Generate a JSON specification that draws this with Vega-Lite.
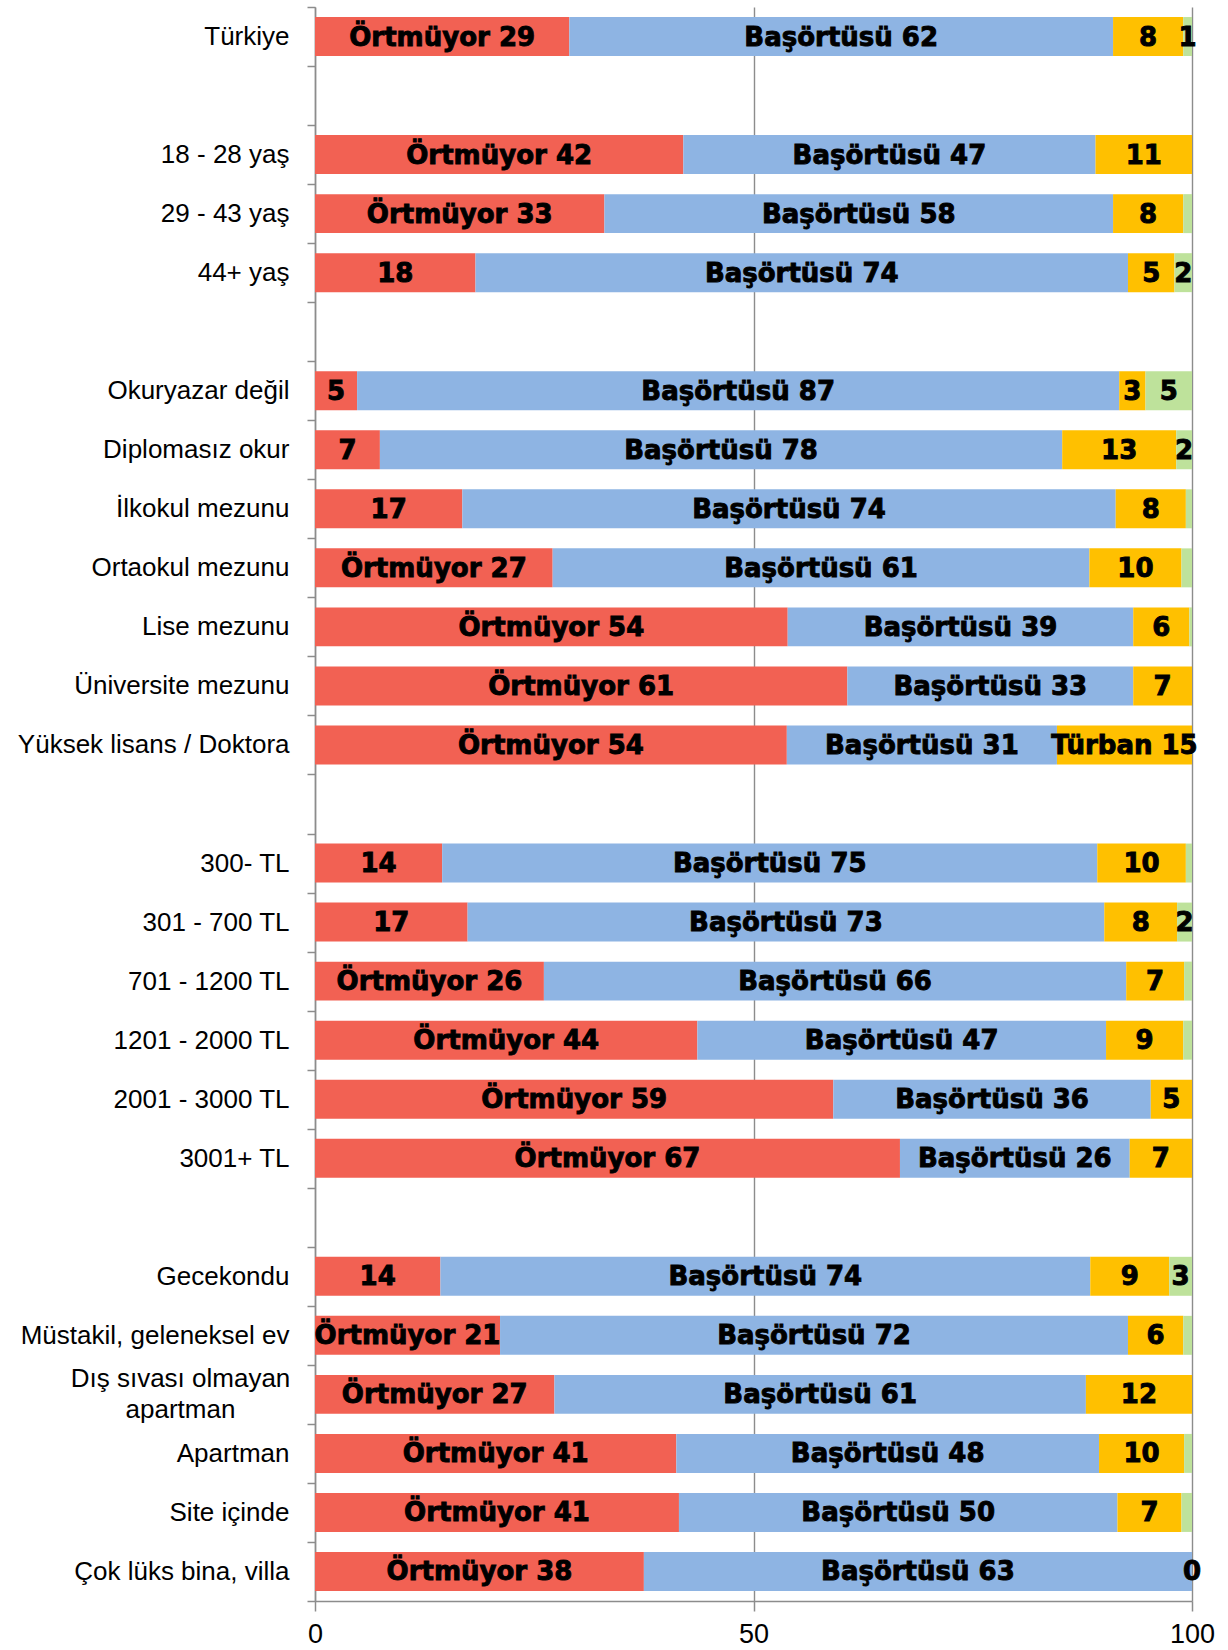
{
  "$schema": "https://vega.github.io/schema/vega-lite/v6.json",
  "width": 877,
  "height": 1594,
  "autosize": {"type": "none"},
  "padding": {"left": 315, "top": 7, "right": 36, "bottom": 49},
  "background": "white",
  "config": {"view": {"stroke": null}},
  "data": {
    "values": [
      {"cat": "Türkiye", "s": "Örtmüyor", "ord": 1, "v": 29, "lab": "Örtmüyor 29"},
      {"cat": "Türkiye", "s": "Başörtüsü", "ord": 2, "v": 62, "lab": "Başörtüsü 62"},
      {"cat": "Türkiye", "s": "Türban", "ord": 3, "v": 8, "lab": "8"},
      {"cat": "Türkiye", "s": "Çarşaf", "ord": 4, "v": 1, "lab": "1"},
      {"cat": "18 - 28 yaş", "s": "Örtmüyor", "ord": 1, "v": 42, "lab": "Örtmüyor 42"},
      {"cat": "18 - 28 yaş", "s": "Başörtüsü", "ord": 2, "v": 47, "lab": "Başörtüsü 47"},
      {"cat": "18 - 28 yaş", "s": "Türban", "ord": 3, "v": 11, "lab": "11"},
      {"cat": "29 - 43 yaş", "s": "Örtmüyor", "ord": 1, "v": 33, "lab": "Örtmüyor 33"},
      {"cat": "29 - 43 yaş", "s": "Başörtüsü", "ord": 2, "v": 58, "lab": "Başörtüsü 58"},
      {"cat": "29 - 43 yaş", "s": "Türban", "ord": 3, "v": 8, "lab": "8"},
      {"cat": "29 - 43 yaş", "s": "Çarşaf", "ord": 4, "v": 1, "lab": ""},
      {"cat": "44+ yaş", "s": "Örtmüyor", "ord": 1, "v": 18.3, "lab": "18"},
      {"cat": "44+ yaş", "s": "Başörtüsü", "ord": 2, "v": 74.4, "lab": "Başörtüsü 74"},
      {"cat": "44+ yaş", "s": "Türban", "ord": 3, "v": 5.3, "lab": "5"},
      {"cat": "44+ yaş", "s": "Çarşaf", "ord": 4, "v": 2, "lab": "2"},
      {"cat": "Okuryazar değil", "s": "Örtmüyor", "ord": 1, "v": 4.8, "lab": "5"},
      {"cat": "Okuryazar değil", "s": "Başörtüsü", "ord": 2, "v": 86.9, "lab": "Başörtüsü 87"},
      {"cat": "Okuryazar değil", "s": "Türban", "ord": 3, "v": 3, "lab": "3"},
      {"cat": "Okuryazar değil", "s": "Çarşaf", "ord": 4, "v": 5.3, "lab": "5"},
      {"cat": "Diplomasız okur", "s": "Örtmüyor", "ord": 1, "v": 7.4, "lab": "7"},
      {"cat": "Diplomasız okur", "s": "Başörtüsü", "ord": 2, "v": 77.8, "lab": "Başörtüsü 78"},
      {"cat": "Diplomasız okur", "s": "Türban", "ord": 3, "v": 13, "lab": "13"},
      {"cat": "Diplomasız okur", "s": "Çarşaf", "ord": 4, "v": 1.8, "lab": "2"},
      {"cat": "İlkokul mezunu", "s": "Örtmüyor", "ord": 1, "v": 16.8, "lab": "17"},
      {"cat": "İlkokul mezunu", "s": "Başörtüsü", "ord": 2, "v": 74.5, "lab": "Başörtüsü 74"},
      {"cat": "İlkokul mezunu", "s": "Türban", "ord": 3, "v": 8, "lab": "8"},
      {"cat": "İlkokul mezunu", "s": "Çarşaf", "ord": 4, "v": 0.7, "lab": ""},
      {"cat": "Ortaokul mezunu", "s": "Örtmüyor", "ord": 1, "v": 27.1, "lab": "Örtmüyor 27"},
      {"cat": "Ortaokul mezunu", "s": "Başörtüsü", "ord": 2, "v": 61.2, "lab": "Başörtüsü 61"},
      {"cat": "Ortaokul mezunu", "s": "Türban", "ord": 3, "v": 10.5, "lab": "10"},
      {"cat": "Ortaokul mezunu", "s": "Çarşaf", "ord": 4, "v": 1.2, "lab": ""},
      {"cat": "Lise mezunu", "s": "Örtmüyor", "ord": 1, "v": 53.9, "lab": "Örtmüyor 54"},
      {"cat": "Lise mezunu", "s": "Başörtüsü", "ord": 2, "v": 39.4, "lab": "Başörtüsü 39"},
      {"cat": "Lise mezunu", "s": "Türban", "ord": 3, "v": 6.4, "lab": "6"},
      {"cat": "Lise mezunu", "s": "Çarşaf", "ord": 4, "v": 0.3, "lab": ""},
      {"cat": "Üniversite mezunu", "s": "Örtmüyor", "ord": 1, "v": 60.7, "lab": "Örtmüyor 61"},
      {"cat": "Üniversite mezunu", "s": "Başörtüsü", "ord": 2, "v": 32.6, "lab": "Başörtüsü 33"},
      {"cat": "Üniversite mezunu", "s": "Türban", "ord": 3, "v": 6.7, "lab": "7"},
      {"cat": "Yüksek lisans / Doktora", "s": "Örtmüyor", "ord": 1, "v": 53.8, "lab": "Örtmüyor 54"},
      {"cat": "Yüksek lisans / Doktora", "s": "Başörtüsü", "ord": 2, "v": 30.8, "lab": "Başörtüsü 31"},
      {"cat": "Yüksek lisans / Doktora", "s": "Türban", "ord": 3, "v": 15.4, "lab": "Türban 15"},
      {"cat": "300- TL", "s": "Örtmüyor", "ord": 1, "v": 14.5, "lab": "14"},
      {"cat": "300- TL", "s": "Başörtüsü", "ord": 2, "v": 74.7, "lab": "Başörtüsü 75"},
      {"cat": "300- TL", "s": "Türban", "ord": 3, "v": 10.1, "lab": "10"},
      {"cat": "300- TL", "s": "Çarşaf", "ord": 4, "v": 0.7, "lab": ""},
      {"cat": "301 - 700 TL", "s": "Örtmüyor", "ord": 1, "v": 17.4, "lab": "17"},
      {"cat": "301 - 700 TL", "s": "Başörtüsü", "ord": 2, "v": 72.6, "lab": "Başörtüsü 73"},
      {"cat": "301 - 700 TL", "s": "Türban", "ord": 3, "v": 8.3, "lab": "8"},
      {"cat": "301 - 700 TL", "s": "Çarşaf", "ord": 4, "v": 1.7, "lab": "2"},
      {"cat": "701 - 1200 TL", "s": "Örtmüyor", "ord": 1, "v": 26.1, "lab": "Örtmüyor 26"},
      {"cat": "701 - 1200 TL", "s": "Başörtüsü", "ord": 2, "v": 66.4, "lab": "Başörtüsü 66"},
      {"cat": "701 - 1200 TL", "s": "Türban", "ord": 3, "v": 6.6, "lab": "7"},
      {"cat": "701 - 1200 TL", "s": "Çarşaf", "ord": 4, "v": 0.9, "lab": ""},
      {"cat": "1201 - 2000 TL", "s": "Örtmüyor", "ord": 1, "v": 43.6, "lab": "Örtmüyor 44"},
      {"cat": "1201 - 2000 TL", "s": "Başörtüsü", "ord": 2, "v": 46.6, "lab": "Başörtüsü 47"},
      {"cat": "1201 - 2000 TL", "s": "Türban", "ord": 3, "v": 8.8, "lab": "9"},
      {"cat": "1201 - 2000 TL", "s": "Çarşaf", "ord": 4, "v": 1, "lab": ""},
      {"cat": "2001 - 3000 TL", "s": "Örtmüyor", "ord": 1, "v": 59.1, "lab": "Örtmüyor 59"},
      {"cat": "2001 - 3000 TL", "s": "Başörtüsü", "ord": 2, "v": 36.2, "lab": "Başörtüsü 36"},
      {"cat": "2001 - 3000 TL", "s": "Türban", "ord": 3, "v": 4.7, "lab": "5"},
      {"cat": "3001+ TL", "s": "Örtmüyor", "ord": 1, "v": 66.7, "lab": "Örtmüyor 67"},
      {"cat": "3001+ TL", "s": "Başörtüsü", "ord": 2, "v": 26.2, "lab": "Başörtüsü 26"},
      {"cat": "3001+ TL", "s": "Türban", "ord": 3, "v": 7.1, "lab": "7"},
      {"cat": "Gecekondu", "s": "Örtmüyor", "ord": 1, "v": 14.3, "lab": "14"},
      {"cat": "Gecekondu", "s": "Başörtüsü", "ord": 2, "v": 74.1, "lab": "Başörtüsü 74"},
      {"cat": "Gecekondu", "s": "Türban", "ord": 3, "v": 9, "lab": "9"},
      {"cat": "Gecekondu", "s": "Çarşaf", "ord": 4, "v": 2.6, "lab": "3"},
      {"cat": "Müstakil, geleneksel ev", "s": "Örtmüyor", "ord": 1, "v": 21.1, "lab": "Örtmüyor 21"},
      {"cat": "Müstakil, geleneksel ev", "s": "Başörtüsü", "ord": 2, "v": 71.6, "lab": "Başörtüsü 72"},
      {"cat": "Müstakil, geleneksel ev", "s": "Türban", "ord": 3, "v": 6.3, "lab": "6"},
      {"cat": "Müstakil, geleneksel ev", "s": "Çarşaf", "ord": 4, "v": 1, "lab": ""},
      {"cat": "Dış sıvası olmayan apartman", "s": "Örtmüyor", "ord": 1, "v": 27.3, "lab": "Örtmüyor 27"},
      {"cat": "Dış sıvası olmayan apartman", "s": "Başörtüsü", "ord": 2, "v": 60.6, "lab": "Başörtüsü 61"},
      {"cat": "Dış sıvası olmayan apartman", "s": "Türban", "ord": 3, "v": 12.1, "lab": "12"},
      {"cat": "Apartman", "s": "Örtmüyor", "ord": 1, "v": 41.2, "lab": "Örtmüyor 41"},
      {"cat": "Apartman", "s": "Başörtüsü", "ord": 2, "v": 48.2, "lab": "Başörtüsü 48"},
      {"cat": "Apartman", "s": "Türban", "ord": 3, "v": 9.7, "lab": "10"},
      {"cat": "Apartman", "s": "Çarşaf", "ord": 4, "v": 0.9, "lab": ""},
      {"cat": "Site içinde", "s": "Örtmüyor", "ord": 1, "v": 41.5, "lab": "Örtmüyor 41"},
      {"cat": "Site içinde", "s": "Başörtüsü", "ord": 2, "v": 50, "lab": "Başörtüsü 50"},
      {"cat": "Site içinde", "s": "Türban", "ord": 3, "v": 7.3, "lab": "7"},
      {"cat": "Site içinde", "s": "Çarşaf", "ord": 4, "v": 1.2, "lab": ""},
      {"cat": "Çok lüks bina, villa", "s": "Örtmüyor", "ord": 1, "v": 37.5, "lab": "Örtmüyor 38"},
      {"cat": "Çok lüks bina, villa", "s": "Başörtüsü", "ord": 2, "v": 62.5, "lab": "Başörtüsü 63"},
      {"cat": "Çok lüks bina, villa", "s": "Çarşaf", "ord": 4, "v": 0, "lab": "0"}
    ]
  },
  "transform": [
    {"stack": "v", "groupby": ["cat"], "sort": [{"field": "ord", "order": "ascending"}], "as": ["v0", "v1"]},
    {"calculate": "(datum.v0 + datum.v1) / 2", "as": "mid"}
  ],
  "encoding": {
    "y": {
      "field": "cat",
      "type": "nominal",
      "title": null,
      "scale": {
        "domain": ["Türkiye", " ", "18 - 28 yaş", "29 - 43 yaş", "44+ yaş", "  ", "Okuryazar değil", "Diplomasız okur", "İlkokul mezunu", "Ortaokul mezunu", "Lise mezunu", "Üniversite mezunu", "Yüksek lisans / Doktora", "   ", "300- TL", "301 - 700 TL", "701 - 1200 TL", "1201 - 2000 TL", "2001 - 3000 TL", "3001+ TL", "    ", "Gecekondu", "Müstakil, geleneksel ev", "Dış sıvası olmayan apartman", "Apartman", "Site içinde", "Çok lüks bina, villa"],
        "paddingInner": 0,
        "paddingOuter": 0
      },
      "axis": {
        "domainColor": "#8c8c8c",
        "domainWidth": 1.5,
        "tickColor": "#8c8c8c",
        "tickWidth": 1.5,
        "tickSize": 8,
        "tickBand": "extent",
        "labelFont": "Liberation Sans",
        "labelFontSize": 26,
        "labelColor": "#000000",
        "labelLimit": 400,
        "labelLineHeight": 31,
        "labelExpr": "datum.value == 'Dış sıvası olmayan apartman' ? ['Dış sıvası olmayan', 'apartman'] : datum.label",
        "labelAlign": {"condition": {"test": "datum.value == 'Dış sıvası olmayan apartman'", "value": "center"}, "value": "right"},
        "labelPadding": {"condition": {"test": "datum.value == 'Dış sıvası olmayan apartman'", "value": 127}, "value": 18},
        "labelOffset": {"condition": {"test": "datum.value == 'Dış sıvası olmayan apartman'", "value": -15.5}, "value": 0}
      }
    }
  },
  "layer": [
    {
      "mark": {"type": "bar", "height": {"band": 0.66}},
      "encoding": {
        "x": {
          "field": "v0",
          "type": "quantitative",
          "title": null,
          "scale": {"domain": [0, 100], "nice": false},
          "axis": {
            "values": [0, 50, 100],
            "grid": true,
            "gridColor": "#8c8c8c",
            "gridWidth": 1.4,
            "domainColor": "#8c8c8c",
            "domainWidth": 1.5,
            "tickColor": "#8c8c8c",
            "tickWidth": 1.5,
            "tickSize": 10,
            "labelFont": "Liberation Sans",
            "labelFontSize": 27,
            "labelColor": "#000000",
            "labelPadding": 10,
            "labelFlush": false
          }
        },
        "x2": {"field": "v1"},
        "color": {
          "field": "s",
          "type": "nominal",
          "legend": null,
          "scale": {"domain": ["Örtmüyor", "Başörtüsü", "Türban", "Çarşaf"], "range": ["#F26153", "#8EB4E3", "#FFC000", "#BEE29B"]}
        }
      }
    },
    {
      "mark": {"type": "text", "font": "DejaVu Sans", "fontWeight": "bold", "fontSize": 26, "color": "#000000", "stroke": "#000000", "strokeWidth": 0.9, "baseline": "middle", "align": "center", "dy": 1},
      "encoding": {
        "x": {"field": "mid", "type": "quantitative"},
        "text": {"field": "lab", "type": "nominal"}
      }
    }
  ]
}
